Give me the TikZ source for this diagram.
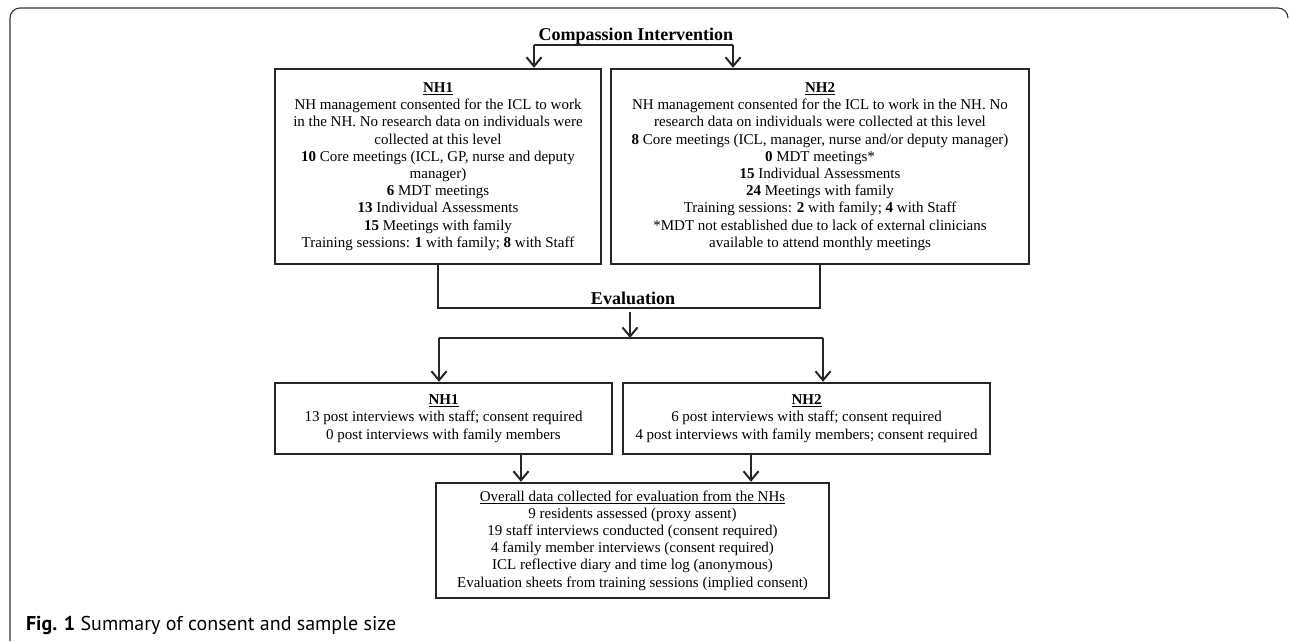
\documentclass[tikz,border=0pt]{standalone}
\usepackage{fontspec}
\setmainfont{Liberation Serif}
\newfontfamily\capfont{PT Sans}
\usepackage{tikz}
\usetikzlibrary{arrows.meta}
\tikzstyle{box} = [rectangle, draw=black!85, line width=2.4pt, align=center, inner sep=0pt, font=\fontsize{15}{17.2}\selectfont]
\tikzstyle{head} = [inner sep=0, outer sep=0, font=\fontsize{18}{20}\selectfont\bfseries]
\tikzstyle{blank} = [inner sep=0,outer sep=0]
\tikzstyle{bar} = [draw=black!85, line width=2pt]
\tikzstyle{line} = [draw=black!85, line width=2pt, ->, >={Straight Barb[length=9pt,width=15pt]}]

\begin{document}
\begin{tikzpicture}[x=1pt, y=-1pt]
\useasboundingbox (0,0) rectangle (1290,641);

% frame round the figure
\draw[black!80, line width=1.1pt, rounded corners=10pt] (10,641) -- (10,8) -- (1288,8) -- (1288,18);

\node [head] (title) at (636,36) {Compassion Intervention};

\node [box, minimum width=326pt, minimum height=195pt] (nh1a) at (438,166.5) {\underline{\textbf{NH1}}\\
NH management consented for the ICL to work\\
in the NH. No research data on individuals were\\
collected at this level\\
\textbf{10} Core meetings (ICL, GP, nurse and deputy\\
manager)\\
\textbf{6} MDT meetings\\
\textbf{13} Individual Assessments\\
\textbf{15} Meetings with family\\
Training sessions: \textbf{1} with family; \textbf{8} with Staff};

\node [box, minimum width=418pt, minimum height=195pt] (nh2a) at (820,166.5) {\underline{\textbf{NH2}}\\
NH management consented for the ICL to work in the NH. No\\
research data on individuals were collected at this level\\
\textbf{8} Core meetings (ICL, manager, nurse and/or deputy manager)\\
\textbf{0} MDT meetings*\\
\textbf{15} Individual Assessments\\
\textbf{24} Meetings with family\\
Training sessions: \textbf{2} with family; \textbf{4} with Staff\\
*MDT not established due to lack of external clinicians\\
available to attend monthly meetings};

\node [head] (eval) at (633,298) {Evaluation};

\node [box, minimum width=337pt, minimum height=71pt] (nh1b) at (443.5,418.5) {\underline{\textbf{NH1}}\\
13 post interviews with staff; consent required\\
0 post interviews with family members};

\node [box, minimum width=367pt, minimum height=71pt] (nh2b) at (806.5,418.5) {\underline{\textbf{NH2}}\\
6 post interviews with staff; consent required\\
4 post interviews with family members; consent required};

\node [box, minimum width=393pt, minimum height=115pt] (data) at (632.5,540.5) {\underline{Overall data collected for evaluation from the NHs}\\
9 residents assessed (proxy assent)\\
19 staff interviews conducted (consent required)\\
4 family member interviews (consent required)\\
ICL reflective diary and time log (anonymous)\\
Evaluation sheets from training sessions (implied consent)};

\node [blank, anchor=west, font=\capfont\fontsize{20}{24}\selectfont] (cap) at (26,625) {\textbf{Fig. 1} Summary of consent and sample size};

% split points
\coordinate (s1) at (534,45);
\coordinate (s2) at (733,45);
\coordinate (e0) at (630,308);
\coordinate (e1) at (630,312);
\coordinate (e2) at (630,338);
\coordinate (t1) at (439,338);
\coordinate (t2) at (823,338);
\coordinate (b1) at (521,470);
\coordinate (b2) at (751,470);

\path [bar] (s1) -- (s2);
\path [line] (s1) -- (s1 |- nh1a.north);
\path [line] (s2) -- (s2 |- nh2a.north);

\path [bar] (nh1a.south) |- (e0) -| (nh2a.south);
\path [line] (e1) -- (e2);

\path [bar] (t1) -- (t2);
\path [line] (t1) -- (t1 |- nh1b.north);
\path [line] (t2) -- (t2 |- nh2b.north);

\path [line] (b1 |- nh1b.south) -- (b1 |- data.north);
\path [line] (b2 |- nh2b.south) -- (b2 |- data.north);

\end{tikzpicture}
\end{document}
